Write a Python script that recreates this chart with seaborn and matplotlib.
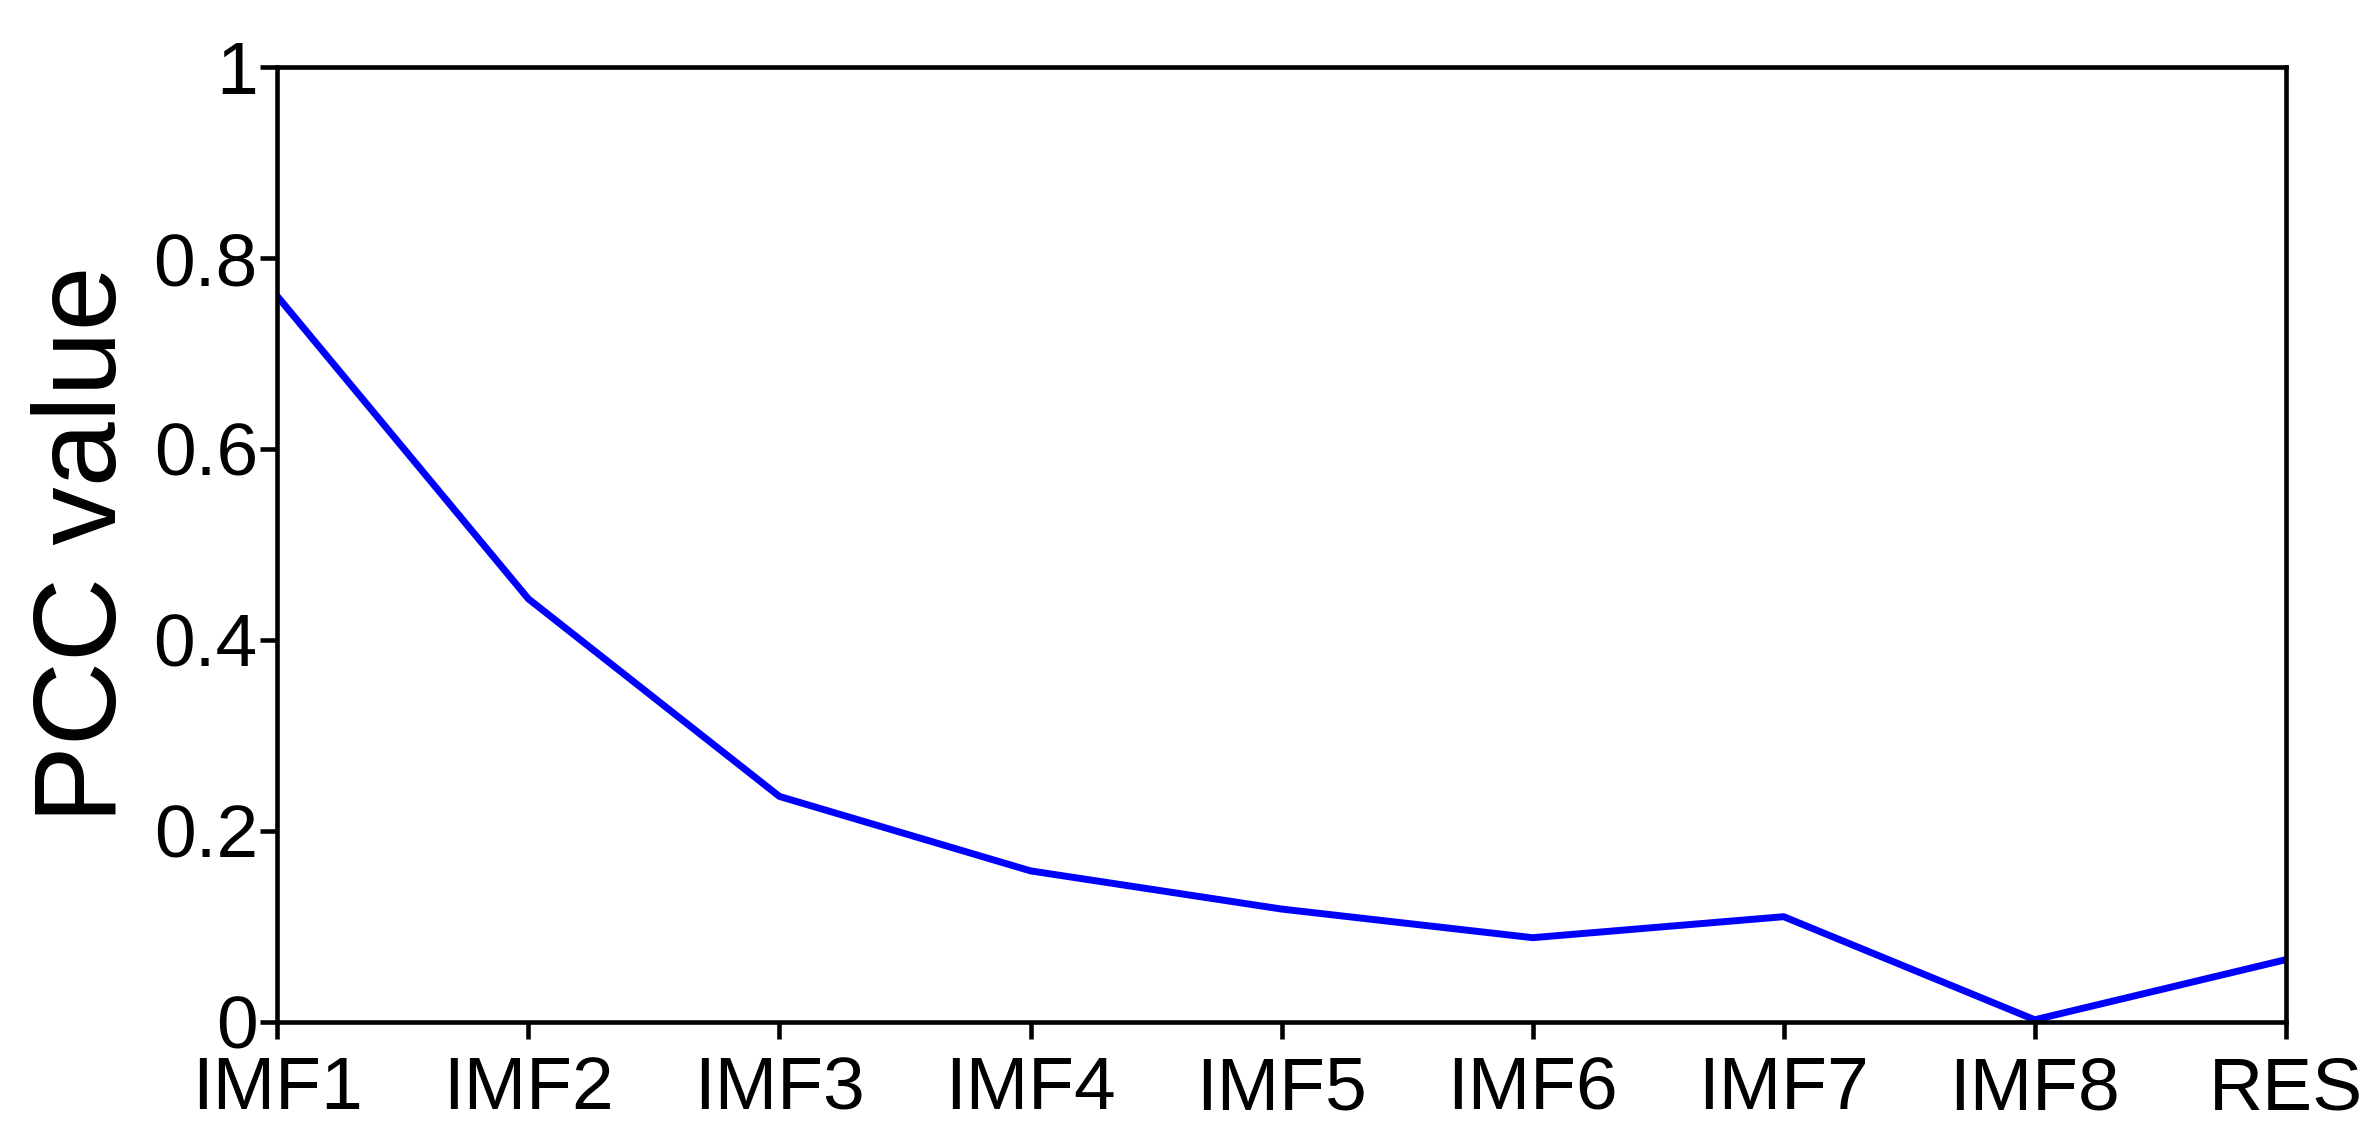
import matplotlib
matplotlib.use('Agg')
import matplotlib.pyplot as plt
import seaborn as sns
import pandas as pd

categories = ['IMF1', 'IMF2', 'IMF3', 'IMF4', 'IMF5', 'IMF6', 'IMF7', 'IMF8', 'RES']
pcc_values = [0.76, 0.443, 0.236, 0.158, 0.118, 0.088, 0.110, 0.002, 0.065]
y_ticks = [0, 0.2, 0.4, 0.6, 0.8, 1]
y_tick_labels = ['0', '0.2', '0.4', '0.6', '0.8', '1']

sns.set_style('white')
plt.rcParams['font.family'] = ['Liberation Sans', 'DejaVu Sans']

df = pd.DataFrame({'x': range(len(categories)), 'pcc': pcc_values})

fig = plt.figure(figsize=(23.7, 11.39), dpi=100)
ax = fig.add_axes([0.117, 0.103, 0.8475, 0.838])
sns.lineplot(data=df, x='x', y='pcc', color='#0000ff', linewidth=5, ax=ax)

ax.set_xlim(0, len(categories) - 1)
ax.set_ylim(0, 1)
ax.set_xticks(range(len(categories)))
ax.set_xticklabels(categories)
ax.set_yticks(y_ticks)
ax.set_yticklabels(y_tick_labels)
ax.set_xlabel('')
ax.set_ylabel('PCC value', fontsize=84, labelpad=10, color='black')
ax.tick_params(axis='both', labelsize=54, direction='out', length=12, width=3.3,
               color='black', labelcolor='black', bottom=True, left=True)
ax.tick_params(axis='x', pad=12)
ax.tick_params(axis='y', pad=2)
for s in ax.spines.values():
    s.set_linewidth(3.3)
    s.set_color('black')

fig.savefig('out.png', dpi=100)
